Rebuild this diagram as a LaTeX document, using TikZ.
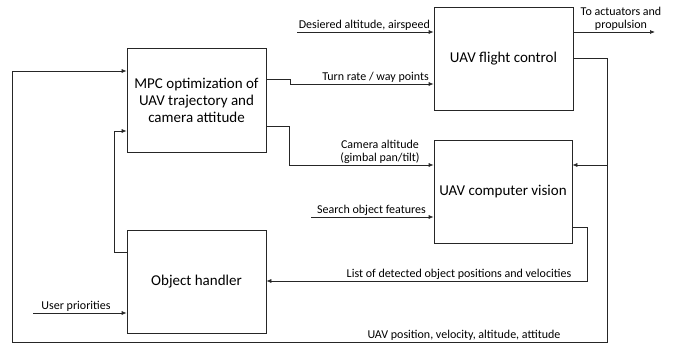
\documentclass[tikz,border=0pt]{standalone}
\usepackage{fontspec}
\setmainfont{Carlito}
\usetikzlibrary{arrows.meta}
\begin{document}
\begin{tikzpicture}[x=1pt,y=-1pt,
  blk/.style={draw=black!85,line width=0.7pt,align=center,font=\fontsize{15}{17}\selectfont,inner sep=0pt},
  conn/.style={draw=black!85,line width=0.7pt},
  arr/.style={conn,-{Latex[length=5pt,width=4pt]}},
  lbl/.style={font=\fontsize{12}{13}\selectfont,inner sep=1pt,align=center}]
\useasboundingbox (0,0) rectangle (673,345);
% blocks
\node[blk,minimum width=139pt,minimum height=104pt] (mpc) at (196.5,100) {MPC optimization of\\UAV trajectory and\\camera attitude};
\node[blk,minimum width=139pt,minimum height=103pt] (fc) at (503.5,58.5) {UAV flight control};
\node[blk,minimum width=138pt,minimum height=103pt] (cv) at (503,191.5) {UAV computer vision};
\node[blk,minimum width=139pt,minimum height=103pt] (oh) at (196.5,281.5) {Object handler};
% free ends
\coordinate (dsrc) at (297,32);
\coordinate (act) at (655,32);
\coordinate (ssrc) at (311,217);
\coordinate (usrc) at (33,313);
% desired altitude
\draw[arr] (dsrc) -- (fc.west |- dsrc);
\node[lbl,anchor=south east] (ldes) at (431,32) {Desiered altitude, airspeed};
% to actuators
\draw[arr] (fc.east |- act) -- (act);
\node[lbl,anchor=south] (lact) at (621,32) {To actuators and\\propulsion};
% turn rate
\draw[arr] (mpc.east |- 0,79) -- (290,79) -- (290,84) -- (fc.west |- 0,84);
\node[lbl,anchor=south east] (lturn) at (430,84) {Turn rate / way points};
% camera altitude
\draw[arr] (mpc.east |- 0,126) -- (289,126) -- (289,165) -- (cv.west |- 0,165);
\node[lbl,anchor=south] (lcam) at (380,165) {Camera altitude\\(gimbal pan/tilt)};
% search object features
\draw[arr] (ssrc) -- (cv.west |- ssrc);
\node[lbl,anchor=south east] (lsearch) at (427,217) {Search object features};
% feedback from flight control
\draw[arr] (fc.east |- 0,58) -- (607,58) -- (607,342) -- (12,342) -- (12,71) -- (mpc.west |- 0,71);
\draw[arr] (607,165) -- (cv.east |- 0,165);
\node[lbl,anchor=south] (lpos) at (464,342) {UAV position, velocity, altitude, attitude};
% detected objects
\draw[arr] (cv.east |- 0,227) -- (587,227) -- (587,281) -- (oh.east |- 0,281);
\node[lbl,anchor=south] (llist) at (459,281) {List of detected object positions and velocities};
% object handler to MPC
\draw[arr] (oh.west |- 0,252) -- (114,252) -- (114,131) -- (mpc.west |- 0,131);
% user priorities
\draw[arr] (usrc) -- (oh.west |- usrc);
\node[lbl,anchor=south] (luser) at (76,313) {User priorities};
\end{tikzpicture}
\end{document}
